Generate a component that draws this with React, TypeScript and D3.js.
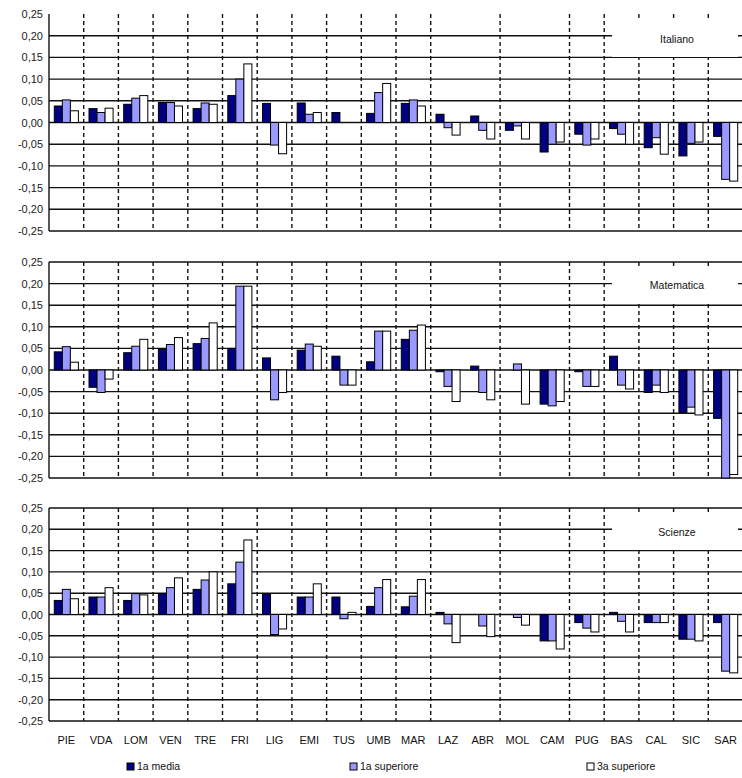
import * as d3 from "d3";

const categories = ["PIE", "VDA", "LOM", "VEN", "TRE", "FRI", "LIG", "EMI", "TUS", "UMB", "MAR", "LAZ", "ABR", "MOL", "CAM", "PUG", "BAS", "CAL", "SIC", "SAR"];
const seriesNames = ["1a media", "1a superiore", "3a superiore"];
const seriesColors = ["#000080", "#9999ff", "#ffffff"];
const yTicks = [0.25, 0.2, 0.15, 0.1, 0.05, 0, -0.05, -0.1, -0.15, -0.2, -0.25];

// Italiano
const itaMedia = [0.038, 0.032, 0.042, 0.046, 0.032, 0.062, 0.044, 0.045, 0.023, 0.021, 0.044, 0.019, 0.015, -0.018, -0.068, -0.027, -0.014, -0.058, -0.077, -0.032];
const itaSup1 = [0.052, 0.023, 0.056, 0.046, 0.045, 0.1, -0.052, 0.019, 0, 0.069, 0.052, -0.012, -0.018, -0.008, -0.05, -0.052, -0.027, -0.035, -0.048, -0.131];
const itaSup3 = [0.027, 0.033, 0.062, 0.038, 0.042, 0.135, -0.072, 0.023, 0, 0.09, 0.038, -0.029, -0.038, -0.038, -0.045, -0.038, -0.05, -0.073, -0.045, -0.135];

// Matematica
const matMedia = [0.042, -0.04, 0.04, 0.048, 0.061, 0.05, 0.028, 0.046, 0.032, 0.019, 0.071, -0.004, 0.009, 0, -0.079, -0.004, 0.032, -0.052, -0.098, -0.112];
const matSup1 = [0.054, -0.052, 0.055, 0.059, 0.073, 0.194, -0.069, 0.06, -0.035, 0.09, 0.092, -0.038, -0.052, 0.014, -0.083, -0.038, -0.035, -0.035, -0.086, -0.25];
const matSup3 = [0.018, -0.021, 0.071, 0.075, 0.109, 0.194, -0.052, 0.055, -0.035, 0.09, 0.104, -0.073, -0.069, -0.079, -0.073, -0.038, -0.044, -0.052, -0.104, -0.242];

// Scienze
const sciMedia = [0.033, 0.041, 0.033, 0.049, 0.059, 0.072, 0.048, 0.041, 0.041, 0.019, 0.018, 0.005, 0, 0, -0.062, -0.019, 0.005, -0.019, -0.058, -0.019];
const sciSup1 = [0.059, 0.041, 0.049, 0.063, 0.081, 0.123, -0.047, 0.041, -0.01, 0.063, 0.043, -0.022, -0.027, -0.007, -0.062, -0.032, -0.016, -0.019, -0.058, -0.133];
const sciSup3 = [0.037, 0.063, 0.046, 0.086, 0.1, 0.175, -0.034, 0.072, 0.005, 0.082, 0.082, -0.066, -0.052, -0.025, -0.081, -0.041, -0.041, -0.019, -0.062, -0.137];

const panels = [
  { title: "Italiano", series: [itaMedia, itaSup1, itaSup3], top: 14, bottom: 231, box: [21, 57], topLine: false },
  { title: "Matematica", series: [matMedia, matSup1, matSup3], top: 262, bottom: 478, box: [267, 302], topLine: true },
  { title: "Scienze", series: [sciMedia, sciSup1, sciSup3], top: 508, bottom: 721, box: [513, 550], topLine: true },
];

// separators that are not drawn in the original (before ABR and CAM)
const hiddenSeparators = ["ABR", "CAM"];

const W = 742;
const H = 778;
const left = 49;
const right = 743;
const font = "'Liberation Sans', Arial, sans-serif";

const x = d3.scaleBand().domain(categories).range([left, right]).paddingInner(0);
const xSub = d3.scaleBand().domain(seriesNames).range([5.3, x.bandwidth() - 5.3]).padding(0);
const fmt = (v: number) => d3.format(".2f")(v).replace(".", ",").replace("−", "-");

function Panel({ p }: { p: (typeof panels)[number] }) {
  const y = d3.scaleLinear().domain([-0.25, 0.25]).range([p.bottom, p.top]);
  const separators = categories.slice(1).filter((c) => !hiddenSeparators.includes(c));
  return (
    <g>
      {yTicks
        .filter((t) => p.topLine || t !== 0.25)
        .map((t) => (
          <line key={t} x1={left} x2={right} y1={y(t)} y2={y(t)} stroke="#111" strokeWidth={1.4} />
        ))}
      {separators.map((c) => (
        <line key={c} x1={x(c)!} x2={x(c)!} y1={p.top} y2={p.bottom} stroke="#111" strokeWidth={1.4} strokeDasharray="4,3" />
      ))}
      <line x1={left} x2={left} y1={p.top} y2={p.bottom} stroke="#111" strokeWidth={1.4} />
      {yTicks.map((t) => (
        <text key={t} x={43} y={y(t) + 4} textAnchor="end" fontSize={11} fontFamily={font} fill="#222">
          {fmt(t)}
        </text>
      ))}
      {p.series.map((vals, si) =>
        vals.map((v, i) =>
          v === 0 ? null : (
            <rect
              key={`${si}-${i}`}
              x={x(categories[i])! + xSub(seriesNames[si])!}
              y={y(Math.max(0, v))}
              width={xSub.bandwidth()}
              height={Math.abs(y(v) - y(0))}
              fill={seriesColors[si]}
              stroke="#000"
              strokeWidth={1}
            />
          )
        )
      )}
      <rect x={612} y={p.box[0]} width={126} height={p.box[1] - p.box[0]} fill="#fff" />
      <text x={677} y={(p.box[0] + p.box[1]) / 2 + 4} textAnchor="middle" fontSize={10.5} fontFamily={font} fill="#111">
        {p.title}
      </text>
    </g>
  );
}

export default function App() {
  const legendX = [127, 350, 587];
  return (
    <div style={{ position: "absolute", left: 0, top: 0 }}>
      <svg width={W} height={H} style={{ display: "block", background: "#fff" }}>
        {panels.map((p) => (
          <Panel key={p.title} p={p} />
        ))}
        {categories.map((c) => (
          <text key={c} x={x(c)! + x.bandwidth() / 2} y={744} textAnchor="middle" fontSize={11} fontFamily={font} fill="#111">
            {c}
          </text>
        ))}
        {seriesNames.map((s, i) => (
          <g key={s} transform={`translate(${legendX[i]},0)`}>
            <rect x={0} y={763} width={7} height={7} fill={seriesColors[i]} stroke="#000" strokeWidth={1} />
            <text x={10} y={770} fontSize={10.5} fontFamily={font} fill="#111">
              {s}
            </text>
          </g>
        ))}
      </svg>
    </div>
  );
}
